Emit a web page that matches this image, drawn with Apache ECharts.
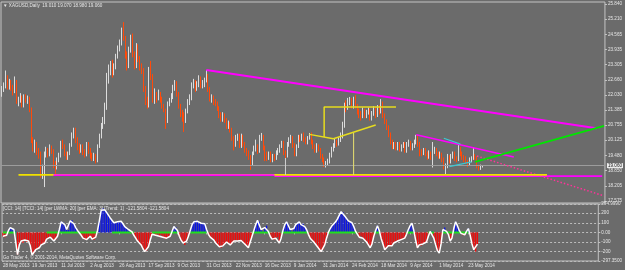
<!DOCTYPE html>
<html>
<head>
<meta charset="utf-8">
<script src="https://cdn.jsdelivr.net/npm/echarts@6/dist/echarts.min.js"></script>
<style>
  html, body { margin: 0; padding: 0; background: #6b6b6b; }
  #chart { width: 625px; height: 270px; }
</style>
</head>
<body>
<div id="chart"></div>
<script>
// XAGUSD daily, 28 May 2013 .. 30 May 2014
const firstOpen = 22.10;
const closes = [
  22.25, 22.40, 22.75, 22.35, 22.55, 22.30, 22.20, 22.60, 21.75, 21.80,
  21.95, 21.60, 21.95, 21.80, 21.85, 21.40, 20.10, 19.80, 19.95, 19.65,
  19.55, 18.70, 18.95, 19.55, 19.70, 19.55, 19.85, 19.70, 19.05, 19.00,
  19.30, 19.50, 19.95, 19.90, 19.55, 19.40, 19.55, 19.90, 20.30, 20.55,
  20.10, 19.85, 19.70, 19.85, 19.60, 19.55, 19.95, 19.70, 19.50, 19.40,
  19.45, 19.25, 19.85, 20.30, 20.75, 20.95, 21.55, 22.75, 23.05, 23.35,
  23.00, 23.20, 23.65, 23.95, 24.20, 24.65, 24.45, 23.70, 23.25, 23.90,
  24.45, 23.70, 23.25, 24.05, 23.55, 23.20, 23.05, 22.25, 21.75, 21.60,
  23.05, 22.80, 21.85, 22.05, 21.90, 22.00, 21.85, 21.55, 21.40, 20.95,
  21.65, 21.80, 21.95, 22.35, 22.55, 22.05, 21.55, 21.25, 21.10, 20.95,
  21.35, 21.75, 21.85, 22.40, 22.55, 22.30, 22.45, 22.70, 22.45, 22.50,
  22.65, 22.85, 22.25, 21.85, 21.90, 21.70, 21.65, 21.45, 21.20, 21.05,
  21.20, 20.95, 20.70, 20.85, 20.60, 20.20, 19.90, 20.25, 20.30, 19.90,
  20.30, 19.95, 19.70, 19.55, 19.45, 19.15, 19.55, 19.75, 19.85, 19.70,
  20.25, 20.30, 19.80, 19.55, 19.40, 19.55, 19.30, 19.45, 19.35, 19.60,
  19.70, 19.85, 20.05, 19.60, 19.45, 19.95, 20.10, 20.20, 19.90, 19.55,
  19.85, 20.25, 20.20, 20.35, 20.15, 20.05, 20.20, 20.40, 20.05, 19.85,
  19.70, 19.90, 19.75, 19.45, 19.30, 19.05, 19.15, 19.25, 19.50, 19.75,
  19.90, 20.10, 19.95, 20.15, 20.30, 20.75, 21.55, 21.45, 21.75, 21.80,
  21.55, 21.85, 21.55, 21.30, 21.20, 21.10, 21.40, 21.15, 21.30, 21.35,
  21.05, 21.25, 21.40, 21.20, 21.50, 21.35, 21.70, 21.15, 20.95, 20.65,
  20.35, 20.05, 19.85, 19.95, 19.80, 19.95, 19.75, 19.90, 19.95, 19.70,
  19.95, 20.05, 19.80, 19.90, 20.05, 20.30, 19.95, 19.65, 19.60, 19.70,
  19.55, 19.45, 19.60, 19.45, 19.70, 19.75, 19.55, 19.45, 19.55, 19.30,
  19.00, 19.05, 19.45, 19.25, 19.45, 19.55, 19.35, 19.30, 19.80, 19.55,
  19.40, 19.35, 19.25, 19.15, 19.30, 19.35, 19.45, 19.40, 19.05, 18.95,
  19.01, 19.06
];
const highs = [
  22.40, 22.55, 23.05, 22.85, 22.70, 22.65, 22.45, 22.80, 22.65, 21.95,
  22.10, 22.00, 22.05, 22.05, 22.00, 21.95, 21.50, 20.25, 20.15, 20.05,
  19.80, 19.65, 19.10, 19.65, 19.85, 19.80, 19.95, 19.90, 19.75, 19.25,
  19.40, 19.60, 20.10, 20.15, 19.95, 19.65, 19.65, 20.00, 20.45, 20.65,
  20.65, 20.25, 20.00, 19.95, 19.95, 19.75, 20.05, 20.05, 19.80, 19.60,
  19.60, 19.55, 19.95, 20.40, 20.85, 21.10, 21.70, 22.95, 23.30, 23.45,
  23.50, 23.35, 23.75, 24.10, 24.35, 24.85, 25.08, 24.50, 23.85, 24.05,
  24.55, 24.60, 23.85, 24.20, 24.15, 23.65, 23.35, 23.15, 22.40, 21.95,
  23.20, 23.45, 22.90, 22.30, 22.15, 22.25, 22.15, 21.95, 21.65, 21.45,
  21.75, 21.90, 22.10, 22.45, 22.65, 22.60, 22.15, 21.65, 21.40, 21.30,
  21.45, 21.85, 22.05, 22.55, 22.70, 22.65, 22.60, 22.85, 22.80, 22.65,
  22.75, 23.07, 22.90, 22.35, 22.05, 22.00, 21.85, 21.75, 21.55, 21.30,
  21.30, 21.25, 21.05, 20.95, 20.90, 20.65, 20.30, 20.35, 20.40, 20.40,
  20.40, 20.35, 20.05, 19.80, 19.70, 19.50, 19.65, 19.90, 20.15, 19.95,
  20.35, 20.43, 20.35, 19.90, 19.65, 19.65, 19.65, 19.55, 19.55, 19.70,
  19.80, 19.95, 20.10, 20.10, 19.70, 20.05, 20.25, 20.35, 20.30, 20.00,
  19.95, 20.35, 20.35, 20.40, 20.45, 20.25, 20.30, 20.43, 20.45, 20.15,
  19.95, 20.00, 19.95, 19.80, 19.55, 19.40, 19.25, 19.35, 19.60, 19.85,
  20.00, 20.20, 20.15, 20.25, 20.45, 20.90, 21.70, 21.80, 21.90, 21.94,
  21.90, 21.95, 22.02, 21.65, 21.45, 21.35, 21.50, 21.45, 21.40, 21.50,
  21.45, 21.35, 21.55, 21.50, 21.60, 21.60, 21.85, 21.75, 21.25, 21.00,
  20.75, 20.45, 20.15, 20.05, 20.05, 20.05, 20.05, 19.95, 20.05, 20.05,
  20.05, 20.15, 20.10, 20.00, 20.15, 20.35, 20.35, 20.05, 19.75, 19.80,
  19.80, 19.65, 19.70, 19.65, 20.05, 19.85, 19.80, 19.65, 19.65, 19.60,
  19.40, 19.15, 19.55, 19.50, 19.55, 19.65, 19.65, 19.45, 19.95, 19.85,
  19.65, 19.50, 19.45, 19.30, 19.40, 19.45, 19.84, 19.55, 19.45, 19.10,
  19.10, 19.07
];
const lows = [
  21.95, 22.15, 22.30, 22.25, 22.25, 22.20, 22.00, 22.10, 21.65, 21.55,
  21.70, 21.50, 21.50, 21.70, 21.65, 21.30, 20.00, 19.65, 19.60, 19.50,
  19.35, 18.55, 18.50, 18.16, 19.40, 19.40, 19.45, 19.55, 18.95, 18.70,
  18.90, 19.20, 19.40, 19.75, 19.45, 19.30, 19.30, 19.50, 19.85, 20.20,
  20.00, 19.70, 19.55, 19.60, 19.50, 19.40, 19.45, 19.55, 19.35, 19.25,
  19.25, 19.15, 19.20, 19.80, 20.20, 20.60, 20.80, 21.40, 22.50, 22.85,
  22.75, 22.85, 23.10, 23.55, 23.85, 24.10, 24.30, 23.55, 23.05, 23.15,
  23.80, 23.60, 23.10, 23.15, 23.40, 23.05, 22.90, 22.15, 21.60, 21.45,
  21.50, 22.65, 21.70, 21.65, 21.70, 21.80, 21.70, 21.45, 21.30, 20.60,
  20.85, 21.55, 21.70, 21.85, 22.20, 21.95, 21.45, 21.10, 20.90, 20.47,
  20.85, 21.25, 21.60, 21.80, 22.30, 22.15, 22.20, 22.35, 22.30, 22.30,
  22.35, 22.55, 22.15, 21.75, 21.70, 21.60, 21.55, 21.35, 21.05, 20.90,
  20.90, 20.85, 20.60, 20.60, 20.45, 20.10, 19.70, 19.85, 20.10, 19.80,
  19.80, 19.85, 19.60, 19.45, 19.30, 18.88, 19.05, 19.50, 19.65, 19.55,
  19.60, 20.10, 19.70, 19.25, 19.25, 19.30, 19.20, 19.20, 19.25, 19.30,
  19.50, 19.60, 19.80, 19.50, 19.35, 19.40, 19.85, 20.00, 19.80, 19.45,
  19.45, 19.80, 20.05, 20.10, 20.05, 19.95, 19.95, 20.15, 19.95, 19.75,
  19.60, 19.60, 19.65, 19.35, 19.20, 19.00, 18.98, 19.05, 19.15, 19.40,
  19.65, 19.80, 19.85, 19.90, 20.05, 20.20, 20.65, 21.30, 21.40, 21.60,
  21.45, 21.45, 21.45, 21.20, 21.05, 20.95, 21.05, 21.05, 21.05, 21.20,
  20.95, 20.95, 21.15, 21.05, 21.10, 21.20, 21.25, 21.05, 20.80, 20.55,
  20.25, 19.95, 19.75, 19.75, 19.70, 19.70, 19.65, 19.65, 19.80, 19.60,
  19.60, 19.85, 19.70, 19.70, 19.80, 19.95, 19.85, 19.45, 19.45, 19.50,
  19.45, 19.30, 19.35, 19.30, 18.98, 19.55, 19.45, 19.35, 19.35, 19.20,
  18.90, 18.67, 18.95, 19.15, 19.15, 19.35, 19.25, 19.20, 19.25, 19.45,
  19.30, 19.20, 19.15, 19.00, 19.05, 19.20, 19.30, 19.30, 18.95, 18.85,
  18.88, 18.98
];
const cci = [
  -40, -50, -30, 20, 50, 45, 30, 10, -230, -130,
  -90, -110, -80, -100, -90, -140, -235, -220, -180, -170,
  -160, -130, -120, -110, -70, -55, -50, -70, -90, -80,
  -40, 30, 110, 105, 80, 30, 25, 120, 125, 90,
  50, 20, 5, -30, -60, -80, -75, -55, -40, -70,
  -80, -50, 20, 120, 230, 250, 235, 220, 180, 150,
  130, 100, 95, 110, 105, 115, 90, 60, 40, 30,
  15, 5, -30, -60, -90, -110, -130, -170, -200, -190,
  -150, -80, -20, -10, -30, -20, -40, -30, -50, -70,
  -60, -50, -40, 10, 60, 55, 20, -40, -80, -110,
  -130, -90, -40, 20, 80, 110, 125, 115, 100, 95,
  100, 90, 30, -20, -50, -70, -80, -110, -130, -150,
  -160, -140, -120, -100, -110, -130, -120, -90, -80, -90,
  -80, -85, -100, -120, -140, -160, -100, -40, 20, 80,
  125, 110, 30, 10, 50, 70, 10, -40, -70, -80,
  -60, -50, -110, -60, 20, 80, 110, 90, 30, 10,
  40, 80, 100, 110, 80, 90, 60, 30, -20, -60,
  -80, -100, -120, -150, -170, -200, -180, -130, -60, 0,
  40, 70, 90, 110, 140, 180, 215, 210, 170, 150,
  120, 110, 100, 60, 10, -20, -50, -40, -60, -80,
  -100, -130, -160, -120, -40, 20, 70, 20, -60, -120,
  -180, -160, -140, -150, -140, -110, -90, -90, -80, -75,
  -70, -60, -20, 30, 70, 95, 20, -80, -160, -130,
  -140, -120, -110, -100, -40, 10, 15, -60, -130, -190,
  -215, -120, 30, 50, 10, -20, -90, -60, 40, 110,
  70, 20, -10, -30, -25, 10, 40, -30, -120, -180,
  -200, -121.5804
];
// bar ranges where the trend line on the CCI zero level is green
const trendGreen = [[0, 7], [24, 52], [60, 72], [82, 96], [103, 112], [137, 147], [153, 168], [179, 195], [204, 207], [222, 226], [234, 237], [242, 256]];

const priceTicks = [17.575, 18.205, 18.850, 19.480, 20.125, 20.755, 21.385, 22.030, 22.660, 23.305, 23.935, 24.565, 25.210, 25.840];
const cciTicks = [-297.35, -200, -100, 0, 100, 200, 294.999];
const cciTickText = { '-297.35': '-297.3500', '0': '0.00', '294.999': '294.9990' };
const lastPrice = 19.06;

// hand-drawn chart objects as [bar index, price]
const mainResistance = [[111, 23.07], [322.5, 20.63]];
const innerResistance = [[225, 20.35], [278, 19.42]];
const projection = [[258.1, 19.46], [327, 17.79]];
const supportYellow = [[8.7, 18.67], [295.5, 18.67]];
const supportMagentaLeft = [[27.7, 18.66], [148, 18.66]];
const supportMagentaRight = [[148, 18.62], [325.9, 18.62]];
const flagLower = [[167, 20.37], [179.5, 20.19], [203.4, 20.76]];
const flagPole = [[174.6, 20.26], [174.6, 21.52], [214, 21.52]];
const flagDrop = [[191.4, 20.43], [191.4, 18.67]];
const markerLine = [[153.9, 19.38], [153.9, 18.67]];
const greenChannel = [[257.4, 19.22], [327.4, 20.73]];
const tealUpper = [[239.5, 20.21], [249.3, 19.96]];
const tealLower = [[242.9, 19.02], [254.7, 19.22]];

const monthNames = ['Jan', 'Feb', 'Mar', 'Apr', 'May', 'Jun', 'Jul', 'Aug', 'Sep', 'Oct', 'Nov', 'Dec'];
const holidays = ['2013-12-25', '2014-01-01'];
const slotCount = 328;
const barCount = closes.length;

const pad = n => String(n).padStart(2, '0');
function buildDates() {
  const out = [];
  const d = new Date(2013, 4, 28);
  while (out.length < slotCount) {
    const wd = d.getDay();
    const iso = d.getFullYear() + '-' + pad(d.getMonth() + 1) + '-' + pad(d.getDate());
    if (wd !== 0 && wd !== 6 && !holidays.includes(iso)) {
      out.push(d.getDate() + ' ' + monthNames[d.getMonth()] + ' ' + d.getFullYear());
    }
    d.setDate(d.getDate() + 1);
  }
  return out;
}
const dates = buildDates();

const candles = closes.map((c, i) => [i === 0 ? firstOpen : closes[i - 1], c, lows[i], highs[i]]);

const zeroGreen = new Array(slotCount).fill(null);
trendGreen.forEach(([a, b]) => {
  for (let i = a; i <= b; i++) zeroGreen[i] = 0;
});

const FONT = 'Liberation Sans';
const TEXT = '#e6e6e6';
const FRAME = '#c4c4c4';

const drawing = (pts, color, width, type, z, extra) => Object.assign({
  type: 'line',
  xAxisIndex: 0,
  yAxisIndex: 0,
  data: pts,
  symbol: 'none',
  lineStyle: { color: color, width: width, type: type || 'solid' },
  z: z || 5,
  silent: true,
  animation: false
}, extra || {});

const chart = echarts.init(document.getElementById('chart'), null, { renderer: 'canvas' });

const option = {
  backgroundColor: '#6b6b6b',
  animation: false,
  title: [
    { text: '\u25BC XAGUSD,Daily  19.010 19.070 18.980 19.060', left: 3, top: 3, padding: 0,
      textStyle: { color: TEXT, fontSize: 4.6, fontWeight: 'normal', fontFamily: FONT } },
    { text: '[CCI: 14] [TCCI: 14] [per LWMA: 20] [per EMA: 3] [Trend: 1]  -121.5804 -121.5804', left: 3, top: 206, padding: 0,
      textStyle: { color: TEXT, fontSize: 4.6, fontWeight: 'normal', fontFamily: FONT } },
    { text: 'Go Trader 4, \u00A9 2001-2014, MetaQuotes Software Corp.', left: 3, top: 255, padding: 0,
      textStyle: { color: TEXT, fontSize: 4.6, fontWeight: 'normal', fontFamily: FONT } }
  ],
  grid: [
    { left: 1, top: 2, width: 605, height: 201, show: true, borderColor: FRAME, borderWidth: 1, backgroundColor: 'transparent' },
    { left: 1, top: 204, width: 605, height: 57, show: true, borderColor: FRAME, borderWidth: 1, backgroundColor: 'transparent' }
  ],
  xAxis: [
    { type: 'category', gridIndex: 0, data: dates, boundaryGap: true,
      axisLine: { show: false }, axisTick: { show: false }, axisLabel: { show: false }, splitLine: { show: false } },
    { type: 'category', gridIndex: 1, data: dates, boundaryGap: true,
      axisLine: { show: false },
      axisTick: { show: true, alignWithLabel: true, length: 2, lineStyle: { color: FRAME },
        interval: i => i % 16 === 0 && i < barCount },
      axisLabel: { show: true, color: TEXT, fontSize: 4.6, fontFamily: FONT, margin: 2, align: 'left',
        interval: i => i % 16 === 0 && i < barCount },
      splitLine: { show: false } }
  ],
  yAxis: [
    { type: 'value', gridIndex: 0, position: 'right', min: 17.491, max: 25.924,
      axisLine: { show: false },
      axisTick: { show: true, length: 2, lineStyle: { color: FRAME }, customValues: priceTicks },
      axisLabel: { color: TEXT, fontSize: 4.6, fontFamily: FONT, margin: 3, customValues: priceTicks,
        formatter: v => v.toFixed(3) },
      splitLine: { show: false } },
    { type: 'value', gridIndex: 1, position: 'right', min: -297.35, max: 294.999, splitNumber: 6,
      axisLine: { show: false },
      axisTick: { show: true, length: 2, lineStyle: { color: FRAME }, customValues: cciTicks },
      axisLabel: { color: TEXT, fontSize: 4.6, fontFamily: FONT, margin: 3, customValues: cciTicks,
        formatter: v => cciTickText[String(v)] || String(v) },
      splitLine: { show: true, lineStyle: { color: '#bcbcbc', type: [2, 2], width: 1 } } }
  ],
  series: [
    {
      type: 'candlestick', xAxisIndex: 0, yAxisIndex: 0, data: candles,
      barWidth: '68%',
      itemStyle: { color: '#ffffff', color0: '#ff4a0a', borderColor: '#dcdcdc', borderColor0: '#ff4a0a', borderWidth: 1 },
      z: 3,
      markLine: {
        silent: true, symbol: 'none', animation: false,
        data: [{ yAxis: lastPrice }],
        lineStyle: { color: '#9c9c9c', type: 'solid', width: 1 },
        label: { position: 'end', distance: 2, formatter: '19.060', color: '#202020', fontSize: 4.6, fontFamily: FONT,
          backgroundColor: '#ececec', padding: [0, 1] }
      }
    },
    drawing(mainResistance, '#ff00ff', 2),
    drawing(innerResistance, '#ff00ff', 1.5),
    drawing(projection, '#ff3399', 1.5, [1.5, 2]),
    drawing(supportMagentaRight, '#ff00ff', 1.6, 'solid', 4),
    drawing(supportYellow, '#f0e000', 1.6, 'solid', 5, {
      symbol: 'rect', symbolSize: 3, showSymbol: true, itemStyle: { color: '#f0e000' } }),
    drawing(supportMagentaLeft, '#ff00ff', 1.8, 'solid', 8),
    drawing(flagLower, '#e6dc1e', 1.5),
    drawing(flagPole, '#e6dc1e', 1.5),
    drawing(flagDrop, '#e8e070', 1),
    drawing(markerLine, '#d0d0d0', 1),
    drawing(greenChannel, '#00e600', 1.8),
    drawing(tealUpper, '#3cc8d2', 1.2),
    drawing(tealLower, '#3cc8d2', 1.2),
    {
      type: 'bar', xAxisIndex: 1, yAxisIndex: 1, barWidth: '75%', silent: true,
      data: cci.map(v => ({ value: v, itemStyle: { color: v >= 0 ? '#0a14e6' : '#f00a0a' } })),
      z: 2
    },
    {
      type: 'line', xAxisIndex: 1, yAxisIndex: 1, data: zeroGreen, symbol: 'none', silent: true,
      connectNulls: false, lineStyle: { color: '#1fe01f', width: 2 }, z: 3
    },
    {
      type: 'line', xAxisIndex: 1, yAxisIndex: 1, data: cci, symbol: 'none', silent: true,
      lineStyle: { color: '#ffffff', width: 1.5 }, z: 4
    }
  ]
};

chart.setOption(option);
</script>
</body>
</html>
